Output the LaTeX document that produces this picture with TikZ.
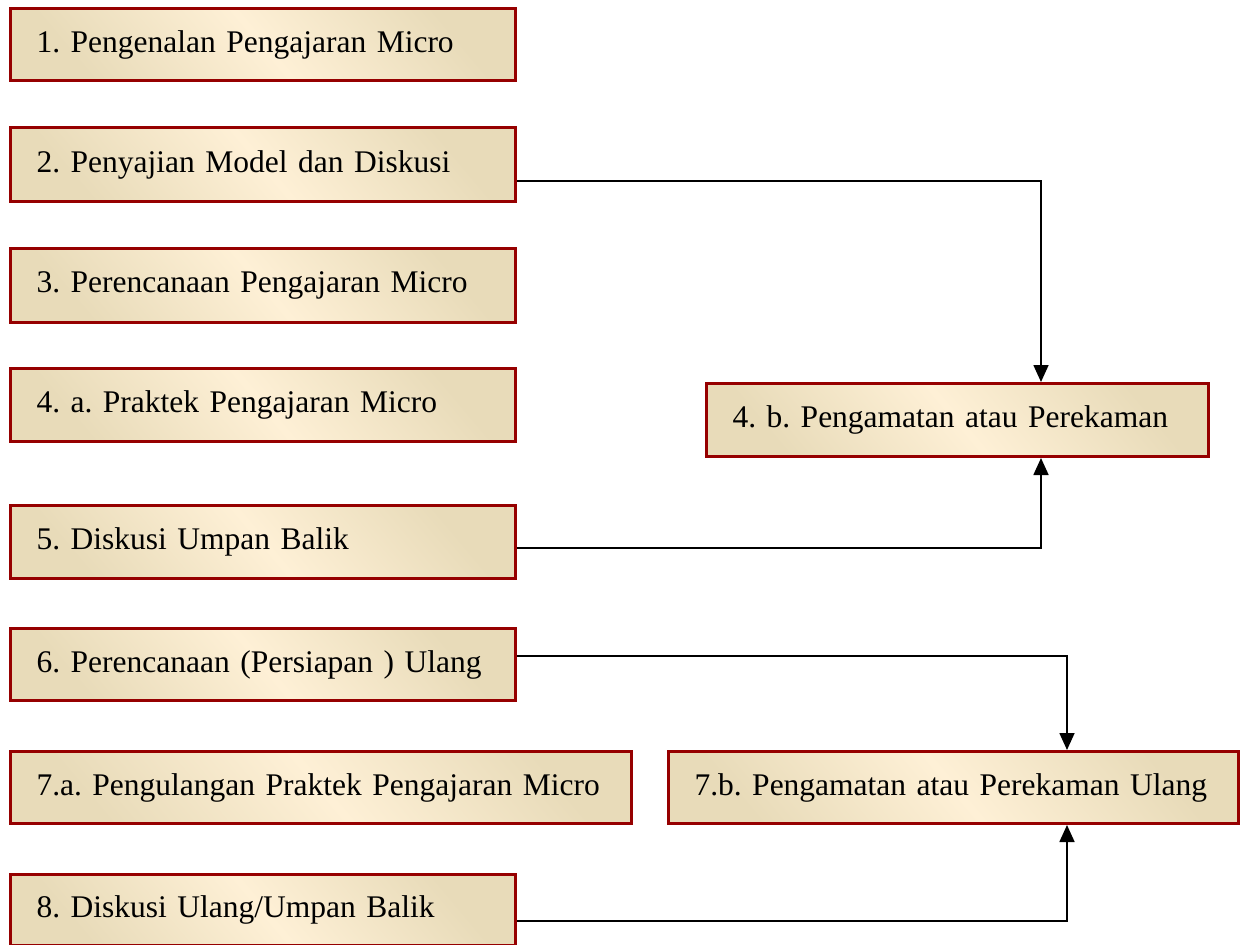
\documentclass[tikz,border=0pt]{standalone}
\usepackage{fontspec}
\setmainfont{Liberation Serif}
\usetikzlibrary{arrows.meta,calc}
\definecolor{boxred}{HTML}{960000}
\definecolor{cream}{HTML}{FEF0D6}
\definecolor{tanA}{HTML}{E8DBB9}
\tikzset{
  stepbox/.style={draw=boxred, line width=3pt, anchor=north west,
    font=\fontsize{31.5}{37}\selectfont\frenchspacing, inner xsep=26pt, inner ysep=0pt,
    align=left, top color=tanA, bottom color=tanA, middle color=cream,
    shading angle=-50},
  link/.style={draw=black, line width=1.7pt, -{Triangle[width=15pt,length=17pt]}}
}
\begin{document}
\begin{tikzpicture}[x=1pt,y=-1pt]
\useasboundingbox (0,0) rectangle (1251,945);
\node[stepbox, text width=453pt, minimum height=72pt] (b1) at (9,7) {1. Pengenalan Pengajaran Micro};
\node[stepbox, text width=453pt, minimum height=74pt] (b2) at (9,126) {2. Penyajian Model dan Diskusi};
\node[stepbox, text width=453pt, minimum height=74pt] (b3) at (9,247) {3. Perencanaan Pengajaran Micro};
\node[stepbox, text width=453pt, minimum height=73pt] (b4a) at (9,367) {4. a. Praktek Pengajaran Micro};
\node[stepbox, text width=453pt, minimum height=73pt] (b5) at (9,504) {5. Diskusi Umpan Balik};
\node[stepbox, text width=453pt, minimum height=72pt] (b6) at (9,627) {6. Perencanaan (Persiapan ) Ulang};
\node[stepbox, text width=569pt, minimum height=72pt] (b7a) at (9,750) {7.a. Pengulangan Praktek Pengajaran Micro};
\node[stepbox, text width=453pt, minimum height=71pt] (b8) at (9,873) {8. Diskusi Ulang/Umpan Balik};
\node[stepbox, text width=450pt, minimum height=73pt] (b4b) at (705,382) {4. b. Pengamatan atau Perekaman};
\node[stepbox, text width=518pt, minimum height=72pt] (b7b) at (667,750) {7.b. Pengamatan atau Perekaman Ulang};
\coordinate (c2) at (1041,181);
\coordinate (c5) at (1041,548);
\coordinate (c6) at (1067,656);
\coordinate (c8) at (1067,921);
\draw[link] (b2.east |- c2) -| (b4b.north -| c2);
\draw[link] (b5.east |- c5) -| (b4b.south -| c5);
\draw[link] (b6.east |- c6) -| (b7b.north -| c6);
\draw[link] (b8.east |- c8) -| (b7b.south -| c8);
\end{tikzpicture}
\end{document}
